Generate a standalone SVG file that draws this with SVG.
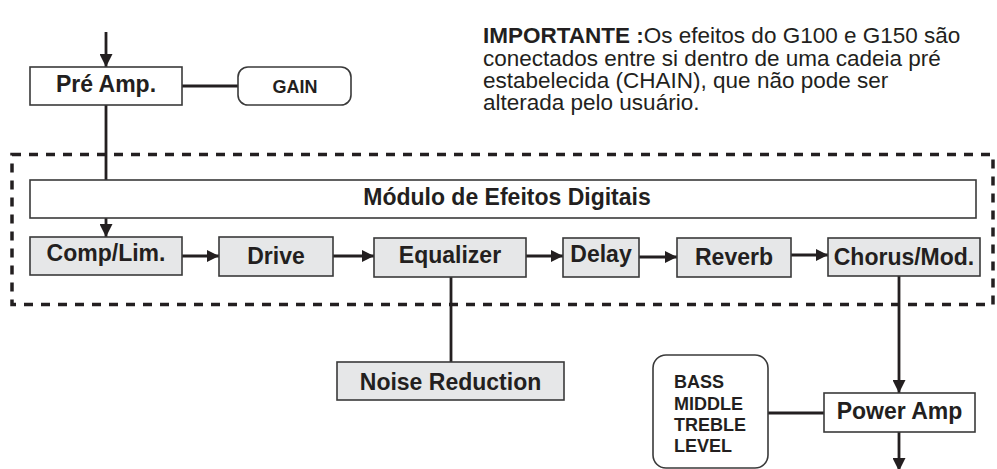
<svg xmlns="http://www.w3.org/2000/svg" width="997" height="469" viewBox="0 0 997 469">
  <style>
    .box { fill: #ffffff; stroke: #3a3a3a; stroke-width: 1.6; }
    .fx { fill: #e6e7e8; stroke: #3a3a3a; stroke-width: 1.6; }
    .wire { fill: none; stroke: #231f20; stroke-width: 2.8; }
    .frame { fill: none; stroke: #231f20; stroke-width: 3.5; stroke-dasharray: 9 8; }
    .lbl { font-family: "Liberation Sans", Arial, sans-serif; font-weight: bold; font-size: 23px; fill: #231f20; text-anchor: middle; }
    .small { font-family: "Liberation Sans", Arial, sans-serif; font-weight: bold; font-size: 18px; fill: #231f20; }
    .note { font-family: "Liberation Sans", Arial, sans-serif; font-size: 22.5px; fill: #231f20; }
  </style>
  <defs>
    <marker id="arrow" viewBox="0 0 12 12" refX="12" refY="6" markerWidth="12" markerHeight="12" markerUnits="userSpaceOnUse" orient="auto">
      <path d="M0,0 L12,6 L0,12 Z" fill="#231f20"/>
    </marker>
    <marker id="arrowV" viewBox="0 0 13 13" refX="13" refY="6.5" markerWidth="13" markerHeight="13" markerUnits="userSpaceOnUse" orient="auto">
      <path d="M0,0 L13,6.5 L0,13 Z" fill="#231f20"/>
    </marker>
  </defs>

  <!-- note -->
  <g id="note">
    <text class="note" x="483" y="43"><tspan font-weight="bold">IMPORTANTE :</tspan>Os efeitos do G100 e G150 são</text>
    <text class="note" x="483" y="66">conectados entre si dentro de uma cadeia pré</text>
    <text class="note" x="483" y="88">estabelecida (CHAIN), que não pode ser</text>
    <text class="note" x="483" y="110">alterada pelo usuário.</text>
  </g>

  <!-- digital effects module boundary -->
  <rect class="frame" x="12" y="154.5" width="981" height="150"/>

  <!-- connectors -->
  <g id="connectors">
    <line class="wire" x1="106" y1="32" x2="106" y2="67" marker-end="url(#arrowV)"/>
    <line class="wire" x1="182" y1="86" x2="238" y2="86"/>
    <line class="wire" x1="106" y1="105" x2="106" y2="237" marker-end="url(#arrowV)"/>
    <line class="wire" x1="182" y1="256" x2="219" y2="256" marker-end="url(#arrow)"/>
    <line class="wire" x1="333" y1="256" x2="374" y2="256" marker-end="url(#arrow)"/>
    <line class="wire" x1="526" y1="256" x2="563" y2="256" marker-end="url(#arrow)"/>
    <line class="wire" x1="639" y1="257" x2="677" y2="257" marker-end="url(#arrow)"/>
    <line class="wire" x1="791" y1="255" x2="828" y2="255" marker-end="url(#arrow)"/>
    <line class="wire" x1="451" y1="277" x2="451" y2="362"/>
    <line class="wire" x1="899" y1="276" x2="899" y2="393" marker-end="url(#arrowV)"/>
    <line class="wire" x1="768" y1="413" x2="824" y2="413"/>
    <line class="wire" x1="899" y1="432" x2="899" y2="471" marker-end="url(#arrowV)"/>
  </g>

  <g id="preamp">
    <rect class="box" x="30" y="67" width="152" height="38"/>
    <text class="lbl" x="106" y="92">Pré Amp.</text>
  </g>
  <g id="gain">
    <rect class="box" x="238" y="67" width="113" height="38" rx="10"/>
    <text class="small" x="295" y="93" text-anchor="middle">GAIN</text>
  </g>

  <g id="module">
    <rect class="box" x="30" y="180" width="946" height="38"/>
    <text class="lbl" x="507" y="205">Módulo de Efeitos Digitais</text>
  </g>

  <g id="comp">
    <rect class="fx" x="30" y="237" width="152" height="38"/>
    <text class="lbl" x="106" y="261">Comp/Lim.</text>
  </g>
  <g id="drive">
    <rect class="fx" x="219" y="237" width="114" height="39"/>
    <text class="lbl" x="276" y="264">Drive</text>
  </g>
  <g id="equalizer">
    <rect class="fx" x="374" y="238" width="152" height="39"/>
    <text class="lbl" x="450" y="263">Equalizer</text>
  </g>
  <g id="delay">
    <rect class="fx" x="563" y="238" width="76" height="39"/>
    <text class="lbl" x="601" y="262">Delay</text>
  </g>
  <g id="reverb">
    <rect class="fx" x="677" y="238" width="114" height="39"/>
    <text class="lbl" x="734" y="265">Reverb</text>
  </g>
  <g id="chorus">
    <rect class="fx" x="828" y="238" width="152" height="38"/>
    <text class="lbl" x="904" y="265">Chorus/Mod.</text>
  </g>

  <g id="noise">
    <rect class="fx" x="337" y="362" width="227" height="38"/>
    <text class="lbl" x="450.5" y="390">Noise Reduction</text>
  </g>

  <g id="tone">
    <rect class="box" x="653" y="355" width="115" height="113" rx="13"/>
    <text class="small" x="674" y="388">BASS</text>
    <text class="small" x="674" y="410">MIDDLE</text>
    <text class="small" x="674" y="431">TREBLE</text>
    <text class="small" x="674" y="452">LEVEL</text>
  </g>

  <g id="poweramp">
    <rect class="box" x="824" y="393" width="151" height="39"/>
    <text class="lbl" x="899.5" y="419">Power Amp</text>
  </g>
</svg>
